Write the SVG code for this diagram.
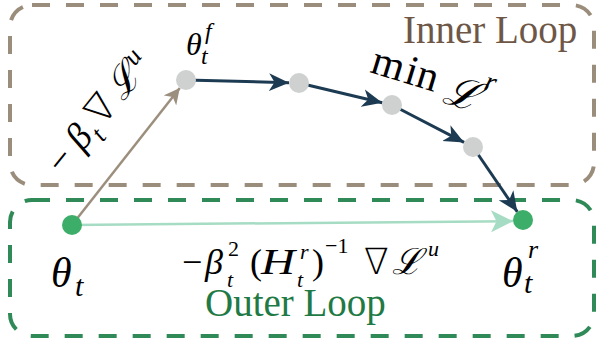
<svg xmlns="http://www.w3.org/2000/svg" width="598" height="340" viewBox="0 0 598 340">
<style>
.box{fill:none;stroke-width:4;stroke-dasharray:18 16}
.inner{stroke:#9b8d7b}
.outer{stroke:#2f8a57}
text{font-family:"Liberation Serif",serif;fill:#000}
.i{font-style:italic}
.cal{font-family:"DejaVu Serif",serif;font-style:italic}
.nab{font-family:"DejaVu Sans",sans-serif;font-weight:200}
.lbl{font-size:39px}
.nav{stroke:#1c3b52;stroke-width:3;fill:none}
.gray{fill:#cfd1d1}
.green{fill:#3dae69}
</style>
<defs>
<marker id="aNav" markerUnits="userSpaceOnUse" markerWidth="20" markerHeight="20" viewBox="0 0 18 16" refX="18" refY="8" orient="auto"><path d="M0,0 L18,8 L0,16 L5,8 z" fill="#1c3b52"/></marker>
<marker id="aBrown" markerUnits="userSpaceOnUse" markerWidth="16" markerHeight="16" viewBox="0 0 14 14" refX="14" refY="7" orient="auto"><path d="M0,0 L14,7 L0,14 L4,7 z" fill="#9c8f7e"/></marker>
<marker id="aGreen" markerUnits="userSpaceOnUse" markerWidth="22" markerHeight="22" viewBox="0 0 20 20" refX="20" refY="10" orient="auto"><path d="M0,0 L20,10 L0,20 L5,10 z" fill="#a6dcc3"/></marker>
</defs>

<g id="inner-loop">
<rect class="box inner" x="10" y="5" width="584" height="180" rx="22"/>
<text class="lbl" x="403" y="43" style="fill:#6e5747">Inner Loop</text>
</g>
<g id="outer-loop">
<rect class="box outer" x="10" y="200" width="584" height="136" rx="22"/>
<text class="lbl" x="205" y="316" style="fill:#1f7a45">Outer Loop</text>
</g>

<g id="connectors">
<line x1="72" y1="225" x2="179.8" y2="87.9" stroke="#9c8f7e" stroke-width="2.5" marker-end="url(#aBrown)"/>
<line x1="72" y1="225" x2="513" y2="221.1" stroke="#a6dcc3" stroke-width="2.5" marker-end="url(#aGreen)"/>
<line class="nav" x1="186" y1="80" x2="289" y2="82.7" marker-end="url(#aNav)"/>
<line class="nav" x1="299" y1="83" x2="382.3" y2="102.7" marker-end="url(#aNav)"/>
<line class="nav" x1="392" y1="105" x2="464.1" y2="142.4" marker-end="url(#aNav)"/>
<line class="nav" x1="473" y1="147" x2="517.3" y2="211.8" marker-end="url(#aNav)"/>
</g>

<g id="theta-t">
<circle class="green" cx="72" cy="225" r="10"/>
<text class="i" x="51" y="287" font-size="42">θ</text>
<text class="i" x="75" y="296" font-size="30">t</text>
</g>
<g id="theta-t-f">
<circle class="gray" cx="186" cy="80" r="10"/>
<text class="i" x="186" y="55" font-size="32">θ</text>
<text class="i" x="205" y="39" font-size="24">f</text>
<text class="i" x="201" y="64" font-size="24">t</text>
</g>
<g id="step-2"><circle class="gray" cx="299" cy="83" r="10"/></g>
<g id="step-3"><circle class="gray" cx="392" cy="105" r="10"/></g>
<g id="step-4"><circle class="gray" cx="473" cy="147" r="10"/></g>
<g id="theta-t-r">
<circle class="green" cx="523" cy="220" r="10"/>
<text class="i" x="502" y="287" font-size="42">θ</text>
<text class="i" x="528" y="258" font-size="26">r</text>
<text class="i" x="524" y="293" font-size="30">t</text>
</g>

<g id="label-grad">
<text transform="translate(63,176) rotate(-51)" font-size="38"><tspan x="0" y="0">−</tspan><tspan class="i" x="31" y="0">β</tspan><tspan class="i" x="51" y="10" font-size="26">t</tspan><tspan class="nab" x="63" y="0">∇</tspan><tspan class="cal" x="95" y="0">ℒ</tspan><tspan class="i" x="130" y="-13" font-size="26">u</tspan></text>
</g>
<g id="label-min">
<text transform="translate(369,72) rotate(17)" font-size="42"><tspan x="0" y="0">m</tspan><tspan x="35" y="0">i</tspan><tspan x="47" y="0">n</tspan><tspan class="cal" x="78" y="8">ℒ</tspan><tspan class="i" x="114" y="-17" font-size="28">r</tspan></text>
</g>
<g id="label-outer" font-size="36">
<text x="182" y="274">−</text>
<text class="i" x="205" y="274">β</text>
<text x="228" y="256" font-size="22">2</text>
<text class="i" x="227" y="287" font-size="22">t</text>
<text x="250" y="274">(</text>
<text class="i" x="261" y="274" textLength="34" lengthAdjust="spacingAndGlyphs">H</text>
<text class="i" x="300" y="259" font-size="22">r</text>
<text class="i" x="297" y="287" font-size="22">t</text>
<text x="312" y="274">)</text>
<text x="325" y="253" font-size="22">−1</text>
<text class="nab" x="364" y="274">∇</text>
<text class="cal" x="392" y="274">ℒ</text>
<text class="i" x="428" y="256" font-size="22">u</text>
</g>
</svg>
